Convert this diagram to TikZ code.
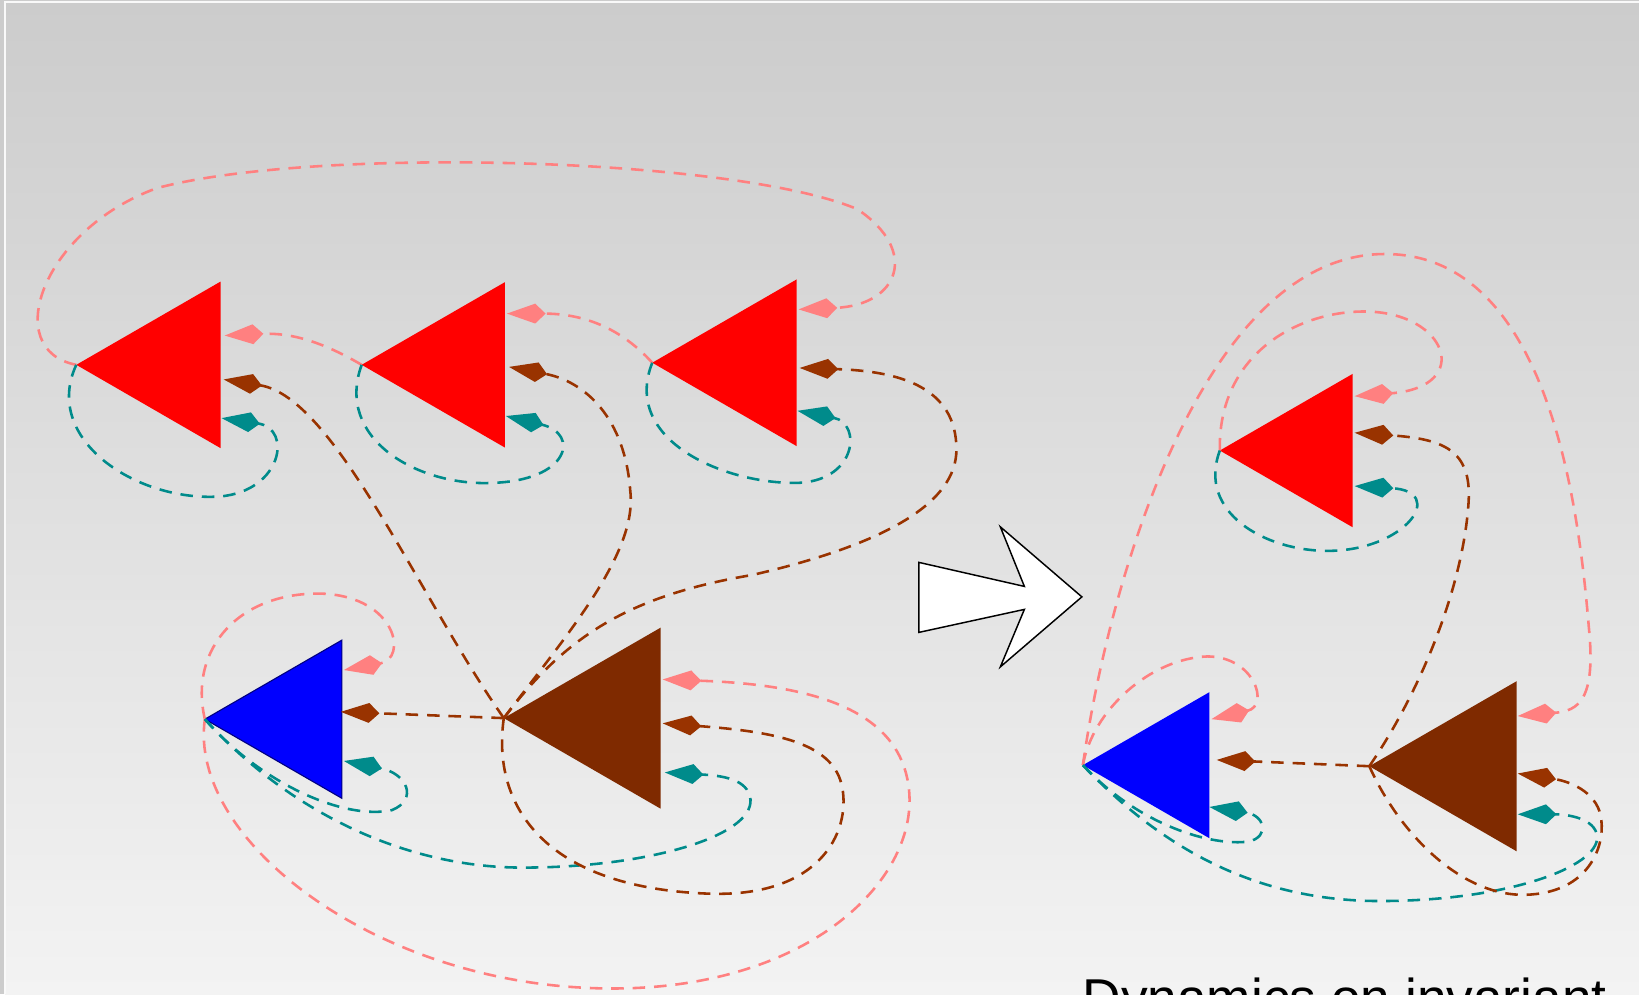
\documentclass[tikz,border=0pt]{standalone}
\usepackage{fontspec}
\setmainfont{Liberation Sans}
\usetikzlibrary{arrows.meta}

\definecolor{rosa}{HTML}{FF8080}
\definecolor{marrom}{HTML}{993300}
\definecolor{ciano}{HTML}{008B8B}
\definecolor{marromesc}{HTML}{7F2A00}
\definecolor{fundoA}{HTML}{CCCCCC}
\definecolor{fundoB}{HTML}{F3F3F3}

% neuronio: cor, nome, x, y (ponta), largura
\newcommand{\neuronio}[5]{%
  \coordinate (#2) at (#3,#4);
  \fill[#1] (#2) -- ++(#5,{-0.577*#5}) -- ++(0,{1.1547*#5}) -- cycle;}

\begin{document}
\begin{tikzpicture}[x=0.1mm, y=-0.1mm,
  lig/.style={dash pattern=on 1.2mm off 0.85mm, line width=0.7pt,
    -{Kite[length=3.7mm,width=1.9mm,inset=1mm]}},
  ligrosa/.style={lig, rosa},
  ligmarrom/.style={lig, marrom},
  ligciano/.style={lig, ciano}]
\useasboundingbox (0,0) rectangle (1568,951);
\clip (0,0) rectangle (1568,951);

% Fundo
\fill[fundoA] (0,0) rectangle (1568,951);
\shade[top color=fundoA, bottom color=fundoB] (5,2) rectangle (1568,951);
\draw[white!95!gray, line width=0.2mm] (5,951) -- (5,2) -- (1568,2);

% Neuronios (esquerda)
\neuronio{red}{R1}{73}{349}{138}
\neuronio{red}{R2}{346}{349}{137}
\neuronio{red}{R3}{624}{347}{138}
\neuronio{blue,draw=blue!50!black,line width=0.3pt}{B}{196}{688}{131}
\neuronio{marromesc}{Br}{482}{687}{150}

% Neuronios (direita)
\neuronio{red}{R4}{1167}{431}{127}
\neuronio{blue}{B2}{1036}{732}{121}
\neuronio{marromesc}{Br2}{1310}{733}{141}

% Entradas
\coordinate (R1p) at (215,321); \coordinate (R1b) at (214,363); \coordinate (R1t) at (212,400);
\coordinate (R2p) at (485,300); \coordinate (R2b) at (487,351); \coordinate (R2t) at (484,398);
\coordinate (R3p) at (764,296); \coordinate (R3b) at (765,352); \coordinate (R3t) at (763,393);
\coordinate (Bp) at (329,641);  \coordinate (Bb) at (326,681);  \coordinate (Bt) at (329,728);
\coordinate (Brp) at (634,650); \coordinate (Brb) at (634,692); \coordinate (Brt) at (636,739);
\coordinate (R4p) at (1296,379); \coordinate (R4b) at (1296,414); \coordinate (R4t) at (1296,465);
\coordinate (B2p) at (1159,688); \coordinate (B2b) at (1164,727); \coordinate (B2t) at (1157,772);
\coordinate (Br2p) at (1452,685); \coordinate (Br2b) at (1452,740); \coordinate (Br2t) at (1452,779);

% Ligacoes (esquerda)
\draw[ligrosa] (R1) .. controls (0,335) and (40,220) .. (150,180)
  .. controls (300,140) and (700,150) .. (820,200)
  .. controls (880,240) and (860,292) .. (R3p);
\draw[ligrosa] (R2) .. controls (310,328) and (280,318) .. (R1p);
\draw[ligrosa] (R3) .. controls (595,315) and (560,300) .. (R2p);
\draw[ligciano] (R1) .. controls (40,420) and (130,480) .. (210,475)
  .. controls (270,470) and (280,410) .. (R1t);
\draw[ligciano] (R2) .. controls (320,420) and (400,465) .. (470,462)
  .. controls (545,460) and (555,415) .. (R2t);
\draw[ligciano] (R3) .. controls (595,420) and (690,462) .. (760,462)
  .. controls (820,462) and (825,405) .. (R3t);
\draw[ligmarrom] (Br) .. controls (400,570) and (320,380) .. (R1b);
\draw[ligmarrom] (Br) .. controls (540,610) and (610,530) .. (603,470)
  .. controls (598,400) and (560,365) .. (R2b);
\draw[ligmarrom] (Br) .. controls (540,610) and (600,570) .. (720,550)
  .. controls (850,520) and (915,480) .. (915,430)
  .. controls (915,370) and (860,355) .. (R3b);
\draw[ligmarrom] (Br) -- (Bb);
\draw[ligrosa] (B) .. controls (180,620) and (230,565) .. (310,568)
  .. controls (380,572) and (390,630) .. (Bp);
\draw[ligrosa] (B) .. controls (180,800) and (350,935) .. (560,945)
  .. controls (760,955) and (875,850) .. (870,760)
  .. controls (865,680) and (780,655) .. (Brp);
\draw[ligciano] (B) .. controls (250,750) and (330,785) .. (375,775)
  .. controls (400,765) and (390,740) .. (Bt);
\draw[ligciano] (B) .. controls (270,770) and (380,830) .. (500,830)
  .. controls (620,830) and (720,800) .. (718,765)
  .. controls (716,745) and (690,742) .. (Brt);
\draw[ligmarrom] (Br) .. controls (470,770) and (520,850) .. (680,855)
  .. controls (790,858) and (815,790) .. (805,750)
  .. controls (795,710) and (740,700) .. (Brb);

% Seta
\draw[fill=white, line width=0.4pt] (879,538) -- (980,561) -- (957,504) -- (1035,571)
  -- (957,638) -- (980,583) -- (879,605) -- cycle;

% Ligacoes (direita)
\draw[ligrosa] (B2) .. controls (1060,560) and (1150,243) .. (1325,243)
  .. controls (1480,243) and (1510,480) .. (1520,600)
  .. controls (1527,670) and (1510,680) .. (Br2p);
\draw[ligrosa] (R4) .. controls (1165,340) and (1240,298) .. (1305,298)
  .. controls (1385,298) and (1410,370) .. (R4p);
\draw[ligciano] (R4) .. controls (1145,490) and (1210,527) .. (1270,527)
  .. controls (1345,527) and (1385,470) .. (R4t);
\draw[ligmarrom] (Br2) .. controls (1360,660) and (1400,560) .. (1405,480)
  .. controls (1408,430) and (1380,420) .. (R4b);
\draw[ligrosa] (B2) .. controls (1045,680) and (1100,630) .. (1155,628)
  .. controls (1200,628) and (1215,675) .. (B2p);
\draw[ligmarrom] (Br2) -- (B2b);
\draw[ligciano] (B2) .. controls (1090,790) and (1160,810) .. (1195,805)
  .. controls (1215,800) and (1210,780) .. (B2t);
\draw[ligciano] (B2) .. controls (1110,810) and (1200,862) .. (1320,862)
  .. controls (1440,862) and (1530,830) .. (1528,800)
  .. controls (1526,783) and (1500,779) .. (Br2t);
\draw[ligmarrom] (Br2) .. controls (1340,800) and (1400,858) .. (1460,856)
  .. controls (1520,854) and (1535,810) .. (1532,785)
  .. controls (1530,760) and (1505,748) .. (Br2b);

% Texto
\node[anchor=base west, inner sep=0pt, font=\fontsize{14.5}{17}\selectfont] (titulo)
  at (1035,972) {Dynamics on invariant};
\end{tikzpicture}
\end{document}
